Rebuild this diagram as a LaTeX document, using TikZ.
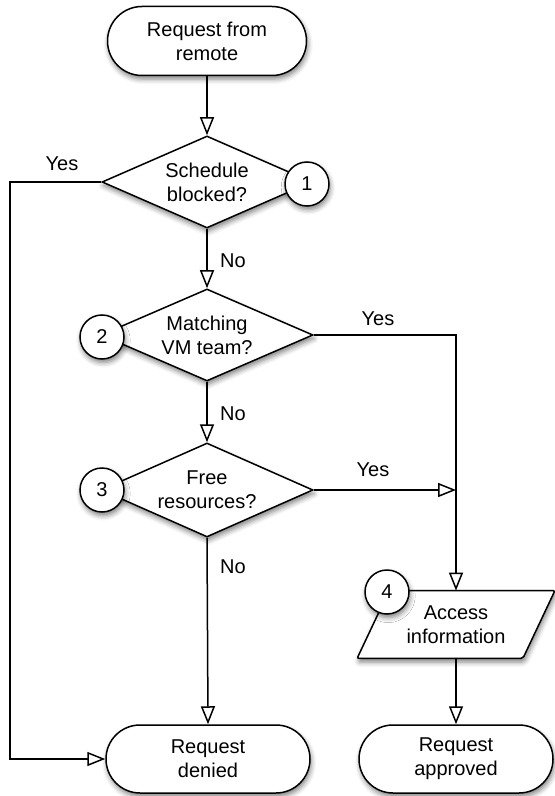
\documentclass[tikz,border=0pt]{standalone}
\usepackage{fontspec}
\setmainfont{Liberation Sans}
\usetikzlibrary{arrows.meta,shapes.geometric,shapes.misc,shadows.blur,calc}

\tikzset{
  softshadow/.style={blur shadow={shadow xshift=0.6pt, shadow yshift=-1.8pt, shadow blur radius=2.5pt, shadow opacity=50}},
  base/.style={draw=black, line width=0.75pt, fill=white, align=center,
    font=\fontsize{10}{12}\selectfont, softshadow},
  terminal/.style={base, rounded rectangle, inner sep=0pt},
  decision/.style={base, diamond, inner sep=0pt, aspect=2.3},
  stepnum/.style={base, circle, minimum size=22pt, inner sep=0pt},
  flow/.style={line width=0.75pt, -{Triangle[open, length=9pt, width=7pt]}},
  lbl/.style={font=\fontsize{10}{12}\selectfont, inner sep=0pt}
}

\begin{document}
\begin{tikzpicture}[x=0.5pt, y=-0.5pt]
\useasboundingbox (0,0) rectangle (554,796);

% terminals
\node[terminal, minimum width=99.5pt, minimum height=34.5pt] (start) at (207,41) {Request from\\remote};
\node[terminal, minimum width=102pt, minimum height=34pt] (denied) at (208,759) {Request\\denied};
\node[terminal, minimum width=97pt, minimum height=34pt] (approved) at (456,759) {Request\\approved};

% decisions
\node[decision, minimum width=105pt, minimum height=46pt] (d1) at (207,182) {Schedule\\blocked?};
\node[decision, minimum width=106pt, minimum height=46pt] (d2) at (207,335) {Matching\\VM team?};
\node[decision, minimum width=106pt, minimum height=47pt] (d3) at (207,490) {Free\\resources?};

% data (parallelogram)
\node[draw=none, minimum width=82.5pt, minimum height=33.5pt, inner sep=0pt] (acc) at (456,624.5) {};
\path[draw=black, line width=0.75pt, fill=white, rounded corners=1pt, softshadow]
  ($(acc.south west)+(-16,0)$) -- ($(acc.south east)+(-16,0)$) --
  ($(acc.north east)+(16,0)$) -- ($(acc.north west)+(16,0)$) -- cycle;
\node[align=center, font=\fontsize{10}{12}\selectfont] (acctext) at (acc.center) {Access\\information};

% connectors
\coordinate (lt) at (10,182);
\coordinate (j2) at (acc.north |- d2.east);
\coordinate (j3) at (acc.north |- d3.east);

\draw[flow] (start.south) -- (d1.north);
\draw[flow] (d1.west) -- (lt) |- (denied.west);
\draw[flow] (d1.south) -- (d2.north);
\draw[flow] (d2.south) -- (d3.north);
\draw[flow] (d3.south) -- (denied.north);
\draw[flow] (d2.east) -- (j2) -- (acc.north);
\draw[flow] (d3.east) -- (j3);
\draw[flow] (acc.south) -- (approved.north);

% branch labels
\node[lbl] (y1) at (62,164) {Yes};
\node[lbl] (n1) at (233,261) {No};
\node[lbl] (y2) at (378,319) {Yes};
\node[lbl] (n2) at (233,414) {No};
\node[lbl] (y3) at (373,470) {Yes};
\node[lbl] (n3) at (233,567) {No};

% step numbers
\node[stepnum] (c1) at (307,184) {1};
\node[stepnum] (c2) at (102,337) {2};
\node[stepnum] (c3) at (102,490) {3};
\node[stepnum] (c4) at (387,592) {4};

\end{tikzpicture}
\end{document}
